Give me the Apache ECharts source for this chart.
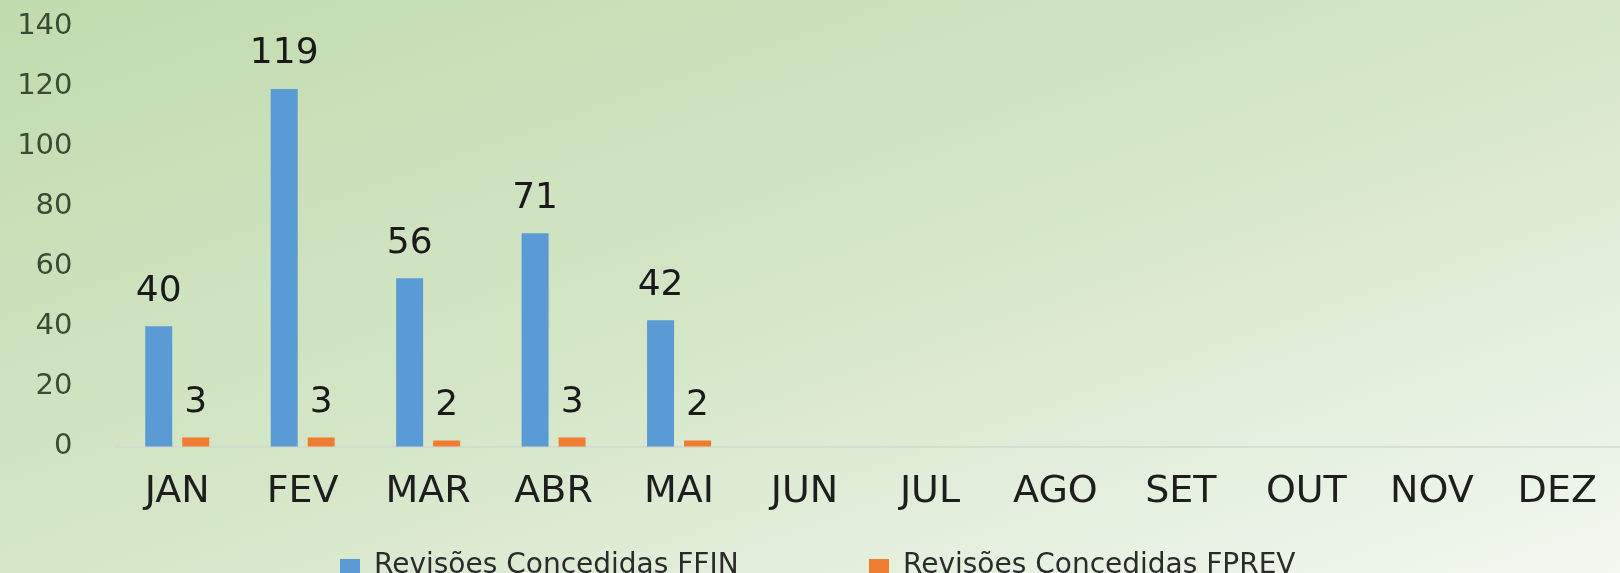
<!DOCTYPE html>
<html>
<head>
<meta charset="utf-8">
<script src="https://cdn.jsdelivr.net/npm/echarts@6/dist/echarts.min.js"></script>
<style>
  html, body { margin: 0; padding: 0; }
  /* fundo em degrade: cantos opostos com a mesma cor, como no original */
  #chart {
    width: 1620px; height: 573px;
    background: linear-gradient(to bottom right, #c1dbae 0%, #d4e6c7 50%, #f2f7f0 100%);
  }
</style>
</head>
<body>
<div id="chart"></div>
<script>
// meses e valores
var months = ["JAN", "FEV", "MAR", "ABR", "MAI", "JUN", "JUL", "AGO", "SET", "OUT", "NOV", "DEZ"];
var ffin = [40, 119, 56, 71, 42, null, null, null, null, null, null, null];
var fprev = [3, 3, 2, 3, 2, null, null, null, null, null, null, null];
var seriesNames = ["Revisões Concedidas FFIN", "Revisões Concedidas FPREV"];
var yTicks = { min: 0, max: 140, interval: 20 };

var chart = echarts.init(document.getElementById("chart"));

var labelStyle = {
  show: true,
  position: "top",
  distance: 17,
  color: "#1a1a1a",
  fontFamily: "DejaVu Sans",
  fontSize: 36
};

// uma legenda por serie, para acertar a posicao de cada item
function legendAt(left, name) {
  return {
    top: 547,
    left: left,
    itemWidth: 20,
    itemHeight: 14,
    icon: "rect",
    textStyle: {
      fontFamily: "DejaVu Sans",
      fontSize: 28,
      color: "#2b2b2b",
      padding: [0, 0, 0, 9]
    },
    data: [name]
  };
}

chart.setOption({
  backgroundColor: "transparent",
  animation: false,
  grid: { left: 114.5, right: -18.5, top: 26, bottom: 126.5 },
  legend: [legendAt(335, seriesNames[0]), legendAt(864, seriesNames[1])],
  xAxis: {
    type: "category",
    data: months,
    axisLine: { lineStyle: { color: "#d3d7cf", width: 1.5 } },
    axisTick: { show: false },
    axisLabel: {
      margin: 27,
      color: "#1e1e1e",
      fontFamily: "DejaVu Sans",
      fontSize: 38
    }
  },
  yAxis: {
    type: "value",
    min: yTicks.min,
    max: yTicks.max,
    interval: yTicks.interval,
    splitLine: { show: false },
    axisLine: { show: false },
    axisTick: { show: false },
    axisLabel: {
      margin: 42,
      padding: [5, 0, 0, 0],
      color: "#3b4a36",
      fontFamily: "DejaVu Sans",
      fontSize: 29
    }
  },
  series: [
    {
      name: seriesNames[0],
      type: "bar",
      data: ffin,
      barWidth: 27,
      barGap: "37%",
      itemStyle: { color: "#5b9bd5" },
      label: labelStyle
    },
    {
      name: seriesNames[1],
      type: "bar",
      data: fprev,
      barWidth: 27,
      itemStyle: { color: "#ed7d31" },
      label: labelStyle
    }
  ]
});
</script>
</body>
</html>
